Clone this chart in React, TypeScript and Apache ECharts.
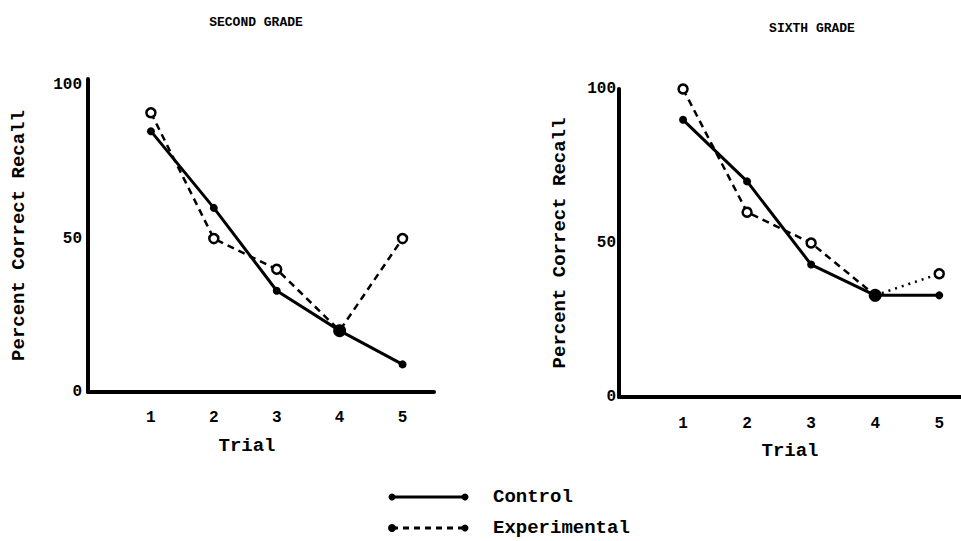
import React, { useEffect, useRef } from "react";
import * as echarts from "echarts";

const trials = [1, 2, 3, 4, 5];
const secondControl = [85, 60, 33, 20, 9];
const secondExperimental = [91, 50, 40, 20, 50];
const sixthControl = [90, 70, 43, 33, 33];
const sixthExperimental = [100, 60, 50, 33, 40];
const yTicks = [0, 50, 100];
const titles = ["SECOND GRADE", "SIXTH GRADE"];
const legendNames = ["Control", "Experimental"];

const FONT = "'Liberation Mono', 'DejaVu Sans Mono', monospace";

export default function App() {
  const ref = useRef<HTMLDivElement>(null);
  useEffect(() => {
    if (!ref.current) return;
    const chart = echarts.init(ref.current, null, { renderer: "svg" });
    const pair = (arr: (number | null)[]) => arr.map((v, i) => [trials[i], v]);

    const xAxisBase = (gridIndex: number, max: number, margin: number, padRight: number) => ({
      type: "value",
      gridIndex,
      min: 0,
      max,
      interval: 1,
      name: "Trial",
      nameLocation: "middle",
      nameGap: 44,
      nameTextStyle: {
        fontFamily: FONT,
        fontSize: 19,
        fontWeight: "bold",
        color: "#000",
        padding: [0, padRight, 0, 0],
      },
      axisLine: { show: true, lineStyle: { color: "#000", width: 4 } },
      axisTick: { show: false },
      splitLine: { show: false },
      axisLabel: {
        margin,
        fontFamily: FONT,
        fontSize: 16,
        fontWeight: "bold",
        color: "#000",
        showMaxLabel: false,
        formatter: (v: number) => (trials.includes(v) ? String(v) : ""),
      },
    });
    const yAxisBase = (gridIndex: number, max: number, margin: number, gap: number) => ({
      type: "value",
      gridIndex,
      min: 0,
      max,
      interval: 50,
      name: "Percent Correct Recall",
      nameLocation: "middle",
      nameGap: gap,
      nameTextStyle: { fontFamily: FONT, fontSize: 19, fontWeight: "bold", color: "#000" },
      axisLine: { show: true, lineStyle: { color: "#000", width: 4 } },
      axisTick: { show: false },
      splitLine: { show: false },
      axisLabel: {
        margin,
        fontFamily: FONT,
        fontSize: 16,
        fontWeight: "bold",
        color: "#000",
        formatter: (v: number) => (yTicks.includes(v) ? String(v) : ""),
      },
    });

    const controlSeries = (idx: number, data: number[]) => ({
      type: "line",
      xAxisIndex: idx,
      yAxisIndex: idx,
      data: data.map((v, i) => ({
        value: [trials[i], v],
        symbolSize: i === 3 ? 13 : 8,
      })),
      symbol: "circle",
      lineStyle: { color: "#000", width: 3, type: "solid" },
      itemStyle: { color: "#000" },
      z: 6,
    });
    const expStyle = {
      symbol: "circle",
      symbolSize: 9,
      itemStyle: { color: "#fff", borderColor: "#000", borderWidth: 2.5 },
      z: 4,
    };

    const option: any = {
      animation: false,
      backgroundColor: "#fff",
      title: [
        {
          text: titles[0],
          left: 251,
          top: 11,
          textAlign: "center",
          textStyle: { fontFamily: FONT, fontSize: 13, fontWeight: "bold", color: "#000" },
        },
        {
          text: titles[1],
          left: 807,
          top: 17,
          textAlign: "center",
          textStyle: { fontFamily: FONT, fontSize: 13, fontWeight: "bold", color: "#000" },
        },
      ],
      grid: [
        { left: 88, top: 79, width: 346, height: 313 },
        { left: 619, top: 89, width: 342, height: 308 },
      ],
      xAxis: [xAxisBase(0, 5.5, 18, 28), xAxisBase(1, 5.34, 19, 0)],
      yAxis: [yAxisBase(0, 102, 6, 60), yAxisBase(1, 100, 3, 50)],
      series: [
        {
          type: "line",
          xAxisIndex: 0,
          yAxisIndex: 0,
          data: pair(secondExperimental),
          lineStyle: { color: "#000", width: 2.5, type: [7, 5] },
          ...expStyle,
        },
        controlSeries(0, secondControl),
        {
          type: "line",
          xAxisIndex: 1,
          yAxisIndex: 1,
          data: pair(sixthExperimental.map((v, i) => (i <= 3 ? v : null))),
          lineStyle: { color: "#000", width: 2.5, type: [7, 5] },
          ...expStyle,
        },
        {
          type: "line",
          xAxisIndex: 1,
          yAxisIndex: 1,
          data: pair(sixthExperimental.map((v, i) => (i >= 3 ? v : null))),
          lineStyle: { color: "#000", width: 2.5, type: [2, 5] },
          ...expStyle,
        },
        controlSeries(1, sixthControl),
      ],
      graphic: [
        {
          type: "line",
          shape: { x1: 392, y1: 497, x2: 465, y2: 497 },
          style: { stroke: "#000", lineWidth: 3 },
        },
        { type: "circle", shape: { cx: 392, cy: 497, r: 3.5 }, style: { fill: "#000" } },
        { type: "circle", shape: { cx: 465, cy: 497, r: 3.5 }, style: { fill: "#000" } },
        {
          type: "line",
          shape: { x1: 392, y1: 528, x2: 465, y2: 528 },
          style: { stroke: "#000", lineWidth: 3, lineDash: [6, 5] },
        },
        { type: "circle", shape: { cx: 392, cy: 528, r: 4 }, style: { fill: "#000" } },
        { type: "circle", shape: { cx: 465, cy: 528, r: 3.5 }, style: { fill: "#000" } },
        {
          type: "text",
          x: 493,
          y: 497,
          style: {
            text: legendNames[0],
            fontFamily: FONT,
            fontSize: 19,
            fontWeight: "bold",
            fill: "#000",
            verticalAlign: "middle",
          },
        },
        {
          type: "text",
          x: 493,
          y: 528,
          style: {
            text: legendNames[1],
            fontFamily: FONT,
            fontSize: 19,
            fontWeight: "bold",
            fill: "#000",
            verticalAlign: "middle",
          },
        },
      ],
    };
    chart.setOption(option);
    return () => chart.dispose();
  }, []);

  return (
    <div
      ref={ref}
      style={{ width: 961, height: 541, position: "absolute", left: 0, top: 0 }}
    />
  );
}
